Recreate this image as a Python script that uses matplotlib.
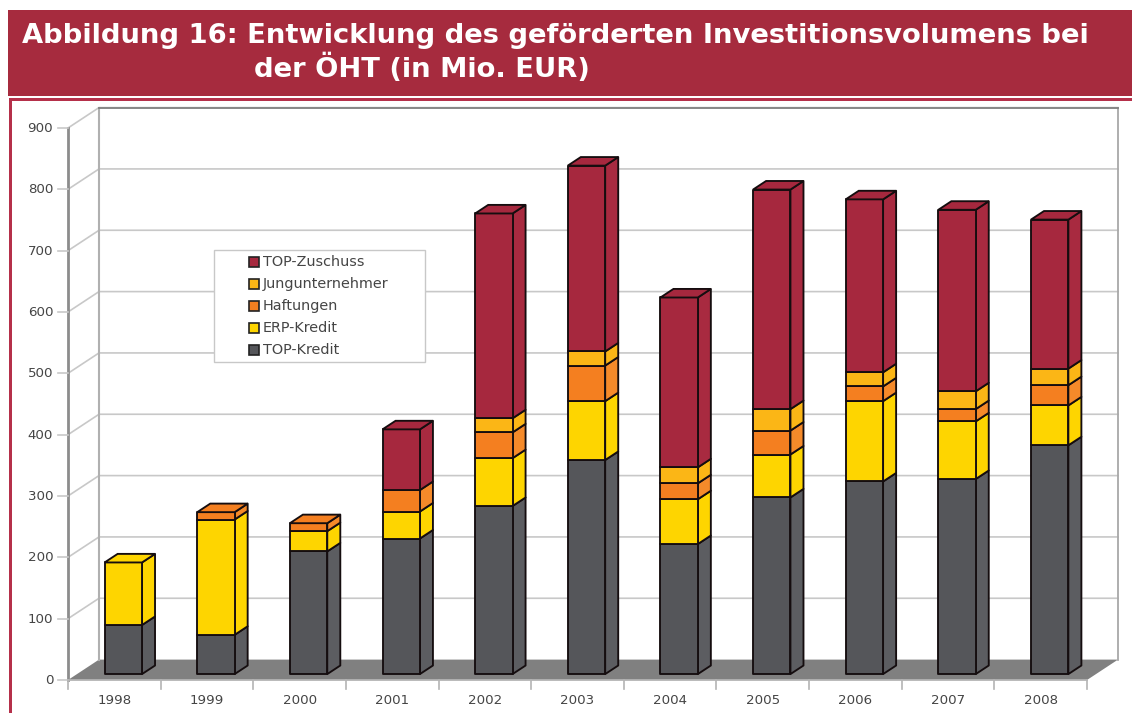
import matplotlib
matplotlib.use('Agg')
import matplotlib.pyplot as plt
from matplotlib.patches import Polygon, Rectangle

years = ['1998', '1999', '2000', '2001', '2002', '2003', '2004', '2005', '2006', '2007', '2008']

top_kredit = [80, 64, 200, 221, 274, 349, 212, 288, 314, 318, 373]
erp_kredit = [102, 188, 33, 44, 78, 96, 73, 70, 131, 94, 65]
haftungen = [0, 12, 13, 35, 42, 58, 26, 39, 24, 20, 33]
jungunternehmer = [0, 0, 0, 0, 23, 23, 26, 35, 23, 29, 27]
top_zuschuss = [0, 0, 0, 99, 334, 303, 277, 358, 282, 296, 243]

series = [
    ('TOP-Kredit', top_kredit, '#55565a', '#5c5d61'),
    ('ERP-Kredit', erp_kredit, '#fed500', '#fed500'),
    ('Haftungen', haftungen, '#f47f20', '#f58a2a'),
    ('Jungunternehmer', jungunternehmer, '#fbb616', '#fbb616'),
    ('TOP-Zuschuss', top_zuschuss, '#a6283e', '#a82a40'),
]
y_ticks = list(range(0, 1000, 100))

RED = '#a62b3e'
TXT = '#454545'
W, H = 1132, 713

fig = plt.figure(figsize=(W / 100, H / 100), dpi=100)
# helper axes in pixels for the title band and the frame
bg = fig.add_axes([0, 0, 1, 1])
bg.set_xlim(0, W)
bg.set_ylim(H, 0)
bg.axis('off')
bg.add_patch(Rectangle((8, 10), W - 8, 86, color=RED, lw=0))
bg.add_patch(Rectangle((9, 98), W - 9, 3, color='#b5304a', lw=0))
bg.add_patch(Rectangle((9, 98), 2.5, H - 98, color='#b5304a', lw=0))
bg.text(22, 43, 'Abbildung 16: Entwicklung des geförderten Investitionsvolumens bei',
        color='white', fontsize=19.68, fontweight='bold', family='DejaVu Sans', va='baseline')
bg.text(254, 77, 'der ÖHT (in Mio. EUR)',
        color='white', fontsize=19.68, fontweight='bold', family='DejaVu Sans', va='baseline')

# main axes = front plane of the pseudo 3d chart
left, right, bottom, top = 68, 1087, 680, 128
ax = fig.add_axes([left / W, 1 - bottom / H, (right - left) / W, (bottom - top) / H])
ax.set_xlim(-0.5, 10.5)
ax.set_ylim(0, 900)
ax.axis('off')
ax.patch.set_alpha(0)

# depth of the whole box in data units
dx = 31 / ((right - left) / 11)
dy = 20.4 / ((bottom - top) / 900)


def proj(x, y, d):
    return (x + dx * d, y + dy * d)


def poly(points, **kw):
    ax.add_patch(Polygon(points, closed=True, clip_on=False, **kw))


GRID = '#c8c8c8'
AXIS = '#8c8c8c'

# floor
poly([proj(-0.5, 0, 0), proj(10.5, 0, 0), proj(10.5, 0, 1), proj(-0.5, 0, 1)],
     facecolor='#808080', edgecolor='none', zorder=1)

# walls and gridlines
for v in y_ticks[1:]:
    xs = [-0.5, -0.5 + dx, 10.5 + dx]
    ys = [v, v + dy, v + dy]
    ax.plot(xs, ys, color=GRID, lw=1.2, clip_on=False, zorder=1)
ax.plot([-0.5, -0.5], [0, 900], color=AXIS, lw=2, clip_on=False, zorder=2)
ax.plot([-0.5 + dx] * 2, [dy, 900 + dy], color='#b0b0b0', lw=1.5, clip_on=False, zorder=2)
ax.plot([10.5 + dx] * 2, [dy, 900 + dy], color='#a8a8a8', lw=1.3, clip_on=False, zorder=2)
ax.plot([-0.5 + dx, 10.5 + dx], [900 + dy] * 2, color='#808080', lw=1.3, clip_on=False, zorder=2)
ax.plot([-0.5, 10.5], [0, 0], color='#b4b4b4', lw=1.3, clip_on=False, zorder=2)

# ticks and labels
for v in y_ticks:
    ax.plot([-0.5 - 0.105, -0.5], [v, v], color=GRID, lw=1.2, clip_on=False, zorder=2)
    ax.text(-0.5 - 0.16, v - 1, str(v), ha='right', va='center', fontsize=9.6, color=TXT,
            family='DejaVu Sans', clip_on=False)
for i in range(12):
    ax.plot([i - 0.5, i - 0.5], [0, -14], color='#b4b4b4', lw=1.2, clip_on=False, zorder=2)
for i, year in enumerate(years):
    ax.text(i, -34, year, ha='center', va='center', fontsize=9.6, color=TXT,
            family='DejaVu Sans', clip_on=False)

# stacked bars
half = 18.7 / ((right - left) / 11)
d0, d1 = 0.29, 0.71
EDGE = '#150d0f'
for i in range(len(years)):
    base = 0
    for name, values, face, side in series:
        v = values[i]
        if v == 0:
            continue
        xa, xb = i - half, i + half
        y0, y1 = base, base + v
        z = 5 + i * 0.1
        # side
        poly([proj(xb, y0, d0), proj(xb, y0, d1), proj(xb, y1, d1), proj(xb, y1, d0)],
             facecolor=side, edgecolor=EDGE, lw=1.35, zorder=z, joinstyle='round')
        # front
        poly([proj(xa, y0, d0), proj(xb, y0, d0), proj(xb, y1, d0), proj(xa, y1, d0)],
             facecolor=face, edgecolor=EDGE, lw=1.35, zorder=z, joinstyle='round')
        base = y1
    # top cap, in the colour of the topmost segment
    top_face = [s for s in series if s[1][i] > 0][-1][2]
    xa, xb = i - half, i + half
    poly([proj(xa, base, d0), proj(xb, base, d0), proj(xb, base, d1), proj(xa, base, d1)],
         facecolor=top_face, edgecolor=EDGE, lw=1.35, zorder=5 + i * 0.1)

# legend box
bg2 = fig.add_axes([0, 0, 1, 1])
bg2.set_xlim(0, W)
bg2.set_ylim(H, 0)
bg2.axis('off')
bg2.patch.set_alpha(0)
bg2.add_patch(Rectangle((214, 250), 211, 112, facecolor='white', edgecolor='#c8c8c8', lw=1))
for k, (name, values, face, side) in enumerate(reversed(series)):
    yy = 261.5 + k * 22.1
    bg2.add_patch(Rectangle((249, yy - 4.5), 9.5, 9.5, facecolor=face, edgecolor='#222222', lw=1.2))
    bg2.text(263, yy, name, va='center', ha='left', fontsize=10.4, color=TXT,
             family='DejaVu Sans')

fig.savefig('out.png', dpi=100)
